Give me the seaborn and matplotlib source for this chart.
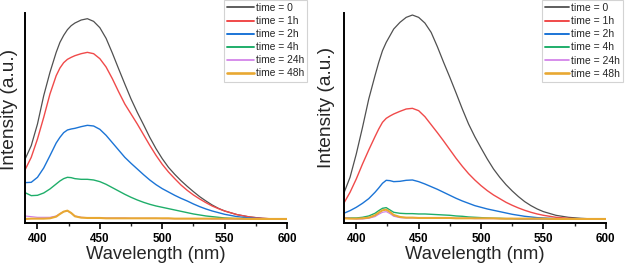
import matplotlib
matplotlib.use("Agg")
import matplotlib.pyplot as plt
import pandas as pd
import seaborn as sns
from matplotlib.ticker import MultipleLocator

# ---------------- data (intensity in arbitrary units) ----------------
wavelength = [390, 395, 400, 405, 410, 415, 418, 421, 424, 427, 430, 435, 440, 445,
              450, 455, 460, 465, 470, 475, 480, 485, 490, 495, 500, 505, 510, 515,
              520, 525, 530, 535, 540, 545, 550, 560, 570, 580, 590, 600]

labels = ["time = 0", "time = 1h", "time = 2h", "time = 4h", "time = 24h", "time = 48h"]
xtick_values = [400, 450, 500, 550, 600]
xtick_labels = ["400", "450", "500", "550", "600"]

left_t0 = [194, 235, 300, 385, 455, 515, 545, 566, 583, 595, 603, 612, 616, 608, 589, 557, 513, 466, 420, 375,
           335, 298, 260, 226, 196, 170, 149, 130, 113, 97, 82, 69, 57, 47, 39, 28, 21, 17, 15, 14]
left_t1 = [162, 200, 255, 320, 390, 445, 468, 484, 494, 500, 505, 511, 515, 511, 496, 471, 436, 397, 360, 330,
           300, 268, 236, 206, 179, 156, 136, 117, 101, 87, 75, 64, 54, 46, 39, 28, 21, 17, 15, 14]
left_t2 = [124, 125, 140, 168, 205, 243, 260, 274, 282, 285, 287, 292, 296, 294, 284, 266, 244, 222, 200, 182,
           165, 148, 132, 118, 106, 96, 86, 77, 69, 60, 52, 45, 39, 34, 29, 22, 18, 16, 15, 14]
left_t4 = [94, 85, 86, 93, 105, 120, 129, 136, 140, 139, 136, 134, 134, 132, 127, 119, 109, 99, 89, 80,
           72, 65, 59, 54, 50, 46, 42, 38, 34, 30, 27, 24, 22, 20, 18, 16, 15, 15, 14, 14]
left_t24 = [24, 22, 20, 20, 20, 24, 31, 37, 39, 33, 24, 20, 19, 19, 18, 18, 18, 18, 18, 17,
            17, 17, 17, 17, 16, 16, 16, 16, 16, 16, 16, 16, 15, 15, 15, 15, 15, 15, 15, 15]
left_t48 = [15, 16, 16, 16, 17, 22, 30, 37, 40, 33, 23, 19, 18, 18, 18, 17, 17, 17, 17, 17,
            17, 17, 17, 17, 17, 17, 16, 16, 16, 16, 16, 16, 16, 16, 16, 16, 15, 15, 15, 15]

right_t0 = [92, 140, 210, 290, 375, 445, 485, 520, 545, 565, 585, 605, 620, 627, 620, 603, 575, 532, 485, 440,
            393, 345, 300, 262, 228, 195, 165, 140, 118, 99, 82, 67, 55, 45, 37, 26, 20, 17, 15, 14]
right_t1 = [62, 95, 135, 180, 222, 262, 285, 305, 317, 324, 330, 338, 345, 347, 340, 322, 298, 274, 249, 223,
            197, 173, 151, 132, 115, 100, 87, 76, 65, 56, 48, 41, 35, 30, 26, 20, 17, 15, 14, 14]
right_t2 = [32, 40, 50, 62, 76, 95, 108, 122, 131, 130, 127, 128, 131, 132, 127, 120, 112, 104, 95, 86,
            77, 69, 62, 55, 50, 45, 41, 37, 33, 29, 26, 23, 21, 19, 18, 16, 15, 14, 14, 14]
right_t4 = [19, 18, 18, 20, 24, 32, 40, 47, 49, 42, 35, 32, 31, 31, 30, 30, 29, 28, 27, 26,
            24, 23, 21, 20, 19, 18, 17, 17, 16, 16, 15, 15, 15, 15, 15, 14, 14, 14, 14, 14]
right_t24 = [19, 17, 15, 15, 17, 22, 29, 35, 37, 31, 23, 19, 18, 18, 18, 18, 18, 17, 17, 17,
             17, 17, 17, 16, 16, 16, 16, 16, 16, 16, 15, 15, 15, 15, 15, 15, 15, 15, 15, 15]
right_t48 = [17, 16, 16, 17, 19, 26, 34, 41, 43, 36, 27, 21, 19, 19, 18, 18, 18, 18, 18, 18,
             17, 17, 17, 17, 17, 17, 17, 16, 16, 16, 16, 16, 16, 16, 16, 15, 15, 15, 15, 15]

left_series = [left_t0, left_t1, left_t2, left_t4, left_t24, left_t48]
right_series = [right_t0, right_t1, right_t2, right_t4, right_t24, right_t48]

colors = ["#505050", "#f04a4a", "#1b74d6", "#1fae6a", "#cf7ae8", "#e8a832"]
widths = [0.9, 1.0, 1.0, 1.0, 0.8, 1.5]


def make_df(series):
    rows = []
    for lab, vals in zip(labels, series):
        for w, v in zip(wavelength, vals):
            rows.append({"wavelength": w, "intensity": v, "time": lab})
    return pd.DataFrame(rows)


sns.set_style("white")
plt.rcParams["font.family"] = ["Liberation Sans", "DejaVu Sans"]

W, H = 627, 266
fig = plt.figure(figsize=(W / 100, H / 100), dpi=100)

axes_px = [(25, 12.7, 262, 210.6), (343.8, 12.7, 262, 210.6)]
legend_px = [(224, 0), (542, 0)]
legend_fs = [7.4, 7.5]
legend_hl = [2.6, 2.3]
ylabel_x = [-0.028, -0.035]
ylabel_y = [0.54, 0.55]

for i, series in enumerate([left_series, right_series]):
    x0, ytop, w, h = axes_px[i]
    ax = fig.add_axes([x0 / W, (H - ytop - h) / H, w / W, h / H])
    df = make_df(series)
    sns.lineplot(data=df, x="wavelength", y="intensity", hue="time", hue_order=labels,
                 palette=colors, estimator=None, sort=False, legend=False, ax=ax)
    for ln, lw in zip(ax.lines, widths):
        ln.set_linewidth(lw)
    ax.set_xlim(390, 600)
    ax.set_ylim(2, 634)
    ax.set_yticks([])
    ax.set_xticks(xtick_values)
    ax.set_xticklabels(xtick_labels, fontweight="bold", fontsize=8.4)
    ax.xaxis.set_minor_locator(MultipleLocator(25))
    ax.tick_params(axis="x", which="major", direction="out", length=4, width=1.2,
                   bottom=True, pad=3, colors="black")
    ax.tick_params(axis="x", which="minor", direction="out", length=2.5, width=1.0, bottom=True)
    for s in ["top", "right"]:
        ax.spines[s].set_visible(False)
    for s in ["left", "bottom"]:
        ax.spines[s].set_linewidth(1.4)
        ax.spines[s].set_color("black")
    ax.set_xlabel("Wavelength (nm)", fontsize=13.2, labelpad=0.5)
    ax.set_ylabel("Intensity (a.u.)", fontsize=13.8)
    ax.yaxis.set_label_coords(ylabel_x[i], ylabel_y[i])
    lx, ly = legend_px[i]
    leg = ax.legend(ax.lines, labels, loc="upper left",
                    bbox_to_anchor=(lx / W, 1 - ly / H), bbox_transform=fig.transFigure,
                    fontsize=legend_fs[i], frameon=True, fancybox=False, borderpad=0.3,
                    handlelength=legend_hl[i], handletextpad=0.2, labelspacing=0.3,
                    borderaxespad=0)
    leg.get_frame().set_edgecolor("#c8c8c8")
    leg.get_frame().set_linewidth(0.8)
    for lh, lw in zip(leg.get_lines(), widths):
        lh.set_linewidth(lw + 0.4)

fig.savefig("out.png", dpi=100, facecolor="white")
